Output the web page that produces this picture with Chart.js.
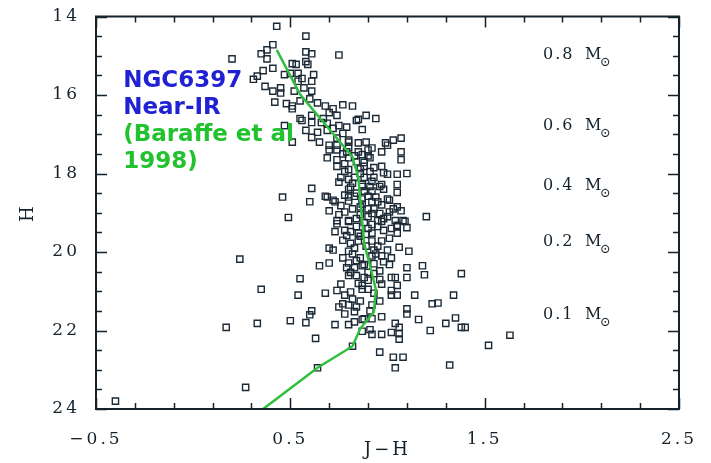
<!DOCTYPE html>
<html>
<head>
<meta charset="utf-8">
<title>NGC6397 Near-IR CMD</title>
<script src="https://cdn.jsdelivr.net/npm/chart.js@4.4.1/dist/chart.umd.min.js"></script>
<style>
  html, body { margin: 0; padding: 0; background: #fff; }
  #wrap { width: 711px; height: 463px; }
</style>
</head>
<body>
<div id="wrap"><canvas id="cmd" width="711" height="463"></canvas></div>
<script>
// stars: J-H colour and H magnitude
const starJH = [
  0.43, 0.58, 0.41, 0.38, 0.35, 0.38, 0.20, 0.58, 0.61, 0.75,
  0.51, 0.53, 0.58, 0.41, 0.36, 0.47, 0.33, 0.31, 0.50, 0.54,
  0.62, 0.56, 0.54, 0.61, 0.59, 0.37, 0.41, 0.45, 0.45, 0.57,
  0.52, 0.61, 0.42, 0.48, 0.51, 0.51, 0.55, 0.60, 0.64, 0.68,
  0.77, 0.72, 0.70, 0.74, 0.55, 0.61, 0.66, 0.58, 0.64, 0.69,
  0.72, 0.74, 0.51, 0.47, 0.89, 0.85, 0.94, 0.87, 1.07, 1.03,
  0.99, 0.79, 0.77, 0.80, 0.89, 0.85, 0.61, 0.67, 0.69, 0.75,
  0.56, 0.61, 0.65, 0.70, 0.74, 0.80, 0.92, 0.97, 0.84, 0.82,
  0.70, 0.74, 0.80, 0.85, 0.90, 1.00, 1.07, 1.07, 0.69, 0.74,
  0.80, 0.84, 0.88, 0.74, 0.80, 0.88, 0.93, 0.97, 0.98, 0.76,
  0.80, 0.83, 0.88, 0.93, 1.05, 1.10, 0.75, 0.87, 0.97, 1.05,
  0.81, 0.88, 0.92, 1.05, 0.69, 0.80, 0.83, 0.90, 0.94, 1.00,
  0.73, 0.76, 0.80, 0.92, 0.95, 1.05, 0.70, 0.78, 0.82, 0.90,
  0.93, 0.96, 1.01, 1.07, 0.74, 0.80, 0.84, 0.90, 0.95, 0.98,
  1.04, 1.08, 0.46, 0.60, 0.61, 0.49, 0.68, 0.72, 1.01, 1.03,
  1.20, 1.09, 1.05, 0.79, 0.87, 0.91, 1.00, 0.87, 0.74, 0.73,
  0.87, 0.92, 1.00, 0.80, 0.97, 1.05, 1.10, 0.78, 0.81, 0.90,
  0.95, 1.02, 0.79, 0.85, 0.92, 1.05, 0.81, 0.85, 0.92, 0.97,
  0.70, 0.72, 0.80, 0.83, 0.93, 1.00, 1.06, 1.11, 1.01, 0.98,
  0.97, 0.92, 1.02, 0.65, 0.70, 0.80, 0.84, 0.88, 1.01, 0.79,
  0.83, 0.90, 0.96, 1.02, 1.10, 1.18, 0.80, 0.84, 0.88, 0.90,
  0.96, 1.04, 1.10, 1.19, 1.38, 0.76, 0.87, 0.90, 0.97, 1.05,
  0.74, 0.81, 1.02, 1.02, 1.05, 1.14, 1.34, 0.78, 0.82, 0.77,
  0.24, 0.35, 0.17, 0.33, 0.27, -0.40, 0.55, 0.54, 0.50, 0.58,
  0.61, 0.60, 0.68, 0.63, 0.64, 0.73, 0.75, 0.80, 0.84, 0.78,
  0.83, 0.92, 0.91, 0.88, 0.92, 0.97, 1.10, 1.10, 1.23, 1.26,
  1.16, 1.30, 1.35, 1.38, 1.40, 1.22, 0.80, 0.83, 0.87, 1.04,
  1.06, 1.06, 1.06, 1.02, 0.97, 0.92, 0.91, 0.87, 0.82, 0.96,
  1.03, 1.08, 1.04, 1.32, 1.52, 1.63, 0.87, 0.81, 0.87, 0.91,
  0.96, 0.80, 0.78, 0.86, 0.84, 0.86, 0.88, 0.86, 0.89, 0.94,
  0.86, 0.93, 0.77, 0.83, 0.90, 0.78, 0.86, 0.91, 0.82, 0.92,
  0.98, 0.78, 0.87, 0.97, 0.75, 0.86, 0.92, 0.84, 0.77, 0.89,
  0.95, 0.82, 0.77, 0.98, 0.93, 0.85, 0.93, 0.86, 0.96
];
const starH = [
  14.25, 14.50, 14.72, 14.85, 14.95, 15.08, 15.08, 14.90, 14.95, 14.98,
  15.20, 15.22, 15.15, 15.32, 15.38, 15.48, 15.52, 15.60, 15.45, 15.45,
  15.48, 15.58, 15.65, 15.65, 15.22, 15.78, 15.90, 15.95, 15.82, 15.82,
  15.90, 15.90, 16.18, 16.22, 16.28, 16.35, 16.15, 16.10, 16.20, 16.28,
  16.25, 16.35, 16.45, 16.52, 16.60, 16.52, 16.70, 16.90, 16.95, 16.90,
  16.85, 17.10, 17.20, 16.78, 16.52, 16.62, 16.60, 16.88, 17.10, 17.15,
  17.22, 16.82, 16.98, 17.15, 17.20, 17.22, 16.70, 16.60, 16.72, 16.78,
  16.65, 17.08, 17.20, 17.28, 17.28, 17.20, 17.35, 17.45, 16.65, 16.28,
  17.40, 17.40, 17.35, 17.45, 17.40, 17.28, 17.45, 17.65, 17.60, 17.65,
  17.60, 17.70, 17.72, 17.82, 17.90, 17.82, 17.85, 17.82, 17.98, 18.10,
  18.15, 18.10, 18.10, 18.10, 18.02, 18.00, 18.22, 18.28, 18.28, 18.28,
  18.35, 18.45, 18.45, 18.48, 18.60, 18.60, 18.58, 18.58, 18.60, 18.65,
  18.72, 18.82, 18.70, 18.72, 18.72, 18.85, 18.95, 18.98, 18.90, 18.90,
  18.90, 19.02, 18.98, 18.95, 19.20, 19.20, 19.15, 19.10, 19.20, 19.15,
  19.20, 19.20, 18.60, 18.72, 18.38, 19.12, 18.58, 18.68, 18.68, 18.90,
  19.10, 19.22, 19.32, 17.45, 17.52, 17.60, 18.02, 18.33, 19.28, 19.48,
  18.78, 19.02, 19.10, 19.22, 19.22, 19.35, 19.38, 19.45, 19.48, 19.40,
  19.35, 19.40, 19.58, 19.52, 19.52, 19.52, 19.78, 19.72, 19.72, 19.72,
  19.90, 19.95, 19.98, 19.90, 19.95, 19.95, 19.88, 19.98, 19.65, 19.45,
  20.10, 20.10, 20.15, 20.35, 20.28, 20.28, 20.22, 20.32, 20.32, 20.40,
  20.40, 20.52, 20.48, 20.65, 20.40, 20.35, 20.60, 20.60, 20.65, 20.72,
  20.70, 20.65, 20.65, 20.58, 20.55, 20.82, 20.85, 20.95, 20.82, 20.85,
  20.98, 21.02, 20.98, 21.10, 21.10, 21.10, 21.10, 21.10, 21.20, 21.32,
  20.18, 20.95, 21.92, 21.82, 23.45, 23.80, 20.68, 21.10, 21.75, 21.80,
  21.50, 21.60, 21.05, 22.20, 22.95, 21.85, 21.40, 21.35, 21.40, 21.58,
  21.52, 21.35, 21.50, 21.70, 21.70, 21.65, 21.45, 21.58, 21.32, 21.30,
  21.72, 21.82, 21.68, 21.92, 21.92, 22.00, 21.85, 21.78, 21.72, 21.82,
  21.92, 22.08, 22.22, 22.05, 22.10, 22.10, 21.98, 22.02, 22.40, 22.55,
  22.68, 22.68, 22.95, 22.88, 22.38, 22.12, 20.95, 20.52, 20.35, 18.33,
  18.33, 18.40, 17.95, 18.00, 18.50, 18.85, 19.25, 19.60, 19.85, 20.05,
  20.15, 20.30, 17.50, 17.55, 17.55, 17.75, 17.88, 17.95, 18.25, 18.20,
  18.40, 18.55, 18.65, 18.80, 19.05, 19.05, 19.30, 19.35, 19.70, 19.55,
  19.85, 20.05, 20.15, 20.25, 20.55, 20.80, 21.05, 21.25, 21.25
];

// Baraffe et al. (1998) isochrone
const isoJH = [0.43, 0.55, 0.82, 0.85, 0.88, 0.91, 0.94, 0.93, 0.86, 0.82, 0.64, 0.36];
const isoH = [14.85, 15.98, 17.58, 18.10, 19.78, 20.35, 20.95, 21.53, 21.95, 22.40, 22.95, 24.00];

// mass labels on the right hand side
const massText = ['0.8', '0.6', '0.4', '0.2', '0.1'];
const massH = [15.08, 16.88, 18.43, 19.85, 21.70];

// which ticks get a number
const xLabelTicks = [-0.5, 0.5, 1.5, 2.5];
const yLabelTicks = [14, 16, 18, 20, 22, 24];

const ink = '#15222b';
const serif = "'DejaVu Serif', 'Liberation Serif', serif";

// wide old-style plot lettering
const spacing = {
    id: 'spacing',
    beforeLayout(chart) { chart.ctx.letterSpacing = '3px'; },
    beforeDraw(chart) { chart.ctx.letterSpacing = '3px'; }
};

// box round the plot with inward ticks on all four sides
const frame = {
    id: 'frame',
    afterDatasetsDraw(chart) {
        const { ctx, chartArea: a, scales: { x, y } } = chart;
        ctx.save();
        ctx.strokeStyle = ink;
        ctx.lineWidth = 1.5;
        ctx.beginPath();
        x.ticks.forEach(t => {
            const px = Math.round(x.getPixelForValue(t.value)) + 0.5;
            const len = t.label ? 11 : 6;
            ctx.moveTo(px, a.bottom); ctx.lineTo(px, a.bottom - len);
            ctx.moveTo(px, a.top); ctx.lineTo(px, a.top + len);
        });
        y.ticks.forEach(t => {
            const py = Math.round(y.getPixelForValue(t.value)) + 0.5;
            const len = t.label ? 11 : 6;
            ctx.moveTo(a.left, py); ctx.lineTo(a.left + len, py);
            ctx.moveTo(a.right, py); ctx.lineTo(a.right - len, py);
        });
        ctx.stroke();
        ctx.lineWidth = 2;
        ctx.strokeRect(a.left, a.top, a.right - a.left, a.bottom - a.top);
        ctx.restore();
    }
};

// cluster name, model reference and mass labels
const notes = {
    id: 'notes',
    afterDraw(chart) {
        const { ctx, scales: { x, y } } = chart;
        ctx.save();
        ctx.letterSpacing = '0px';
        ctx.textAlign = 'left';
        ctx.textBaseline = 'alphabetic';
        ctx.font = "bold 23px 'DejaVu Sans', sans-serif";
        const tx = x.getPixelForValue(-0.36);
        const ty = y.getPixelForValue(15.80);
        ctx.fillStyle = '#2121d4';
        ctx.fillText('NGC6397', tx, ty);
        ctx.fillText('Near-IR', tx, ty + 27);
        ctx.fillStyle = '#22c22e';
        ctx.fillText('(Baraffe et al', tx, ty + 54);
        ctx.fillText('1998)', tx, ty + 81);

        ctx.fillStyle = ink;
        const mx = x.getPixelForValue(1.80);
        massText.forEach((m, i) => {
            const my = y.getPixelForValue(massH[i]);
            ctx.letterSpacing = '2px';
            ctx.font = '16px ' + serif;
            ctx.fillText(m, mx, my);
            ctx.fillText('M', mx + 42, my);
            ctx.letterSpacing = '0px';
            ctx.font = '13px ' + serif;
            ctx.fillText('\u2299', mx + 57, my + 7);
        });
        ctx.restore();
    }
};

const stars = starJH.map((v, i) => ({ x: v, y: starH[i] }));
const isochrone = isoJH.map((v, i) => ({ x: v, y: isoH[i] }));

const ctxCmd = document.getElementById('cmd').getContext('2d');
const cmdChart = new Chart(ctxCmd, {
    type: 'scatter',
    data: {
        datasets: [{
            label: 'Baraffe et al 1998',
            data: isochrone,
            showLine: true,
            borderColor: '#2fbf3d',
            borderWidth: 2.5,
            pointRadius: 0,
            tension: 0,
            order: 0
        }, {
            label: 'NGC6397',
            data: stars,
            pointStyle: 'rect',
            pointRadius: 4.4,
            borderColor: '#1b2a36',
            borderWidth: 1.4,
            backgroundColor: 'rgba(0,0,0,0)',
            order: 1
        }]
    },
    options: {
        responsive: false,
        animation: false,
        layout: { padding: { top: 9, right: 31, bottom: 0, left: 0 } },
        plugins: {
            legend: { display: false },
            tooltip: { enabled: false }
        },
        scales: {
            x: {
                type: 'linear',
                min: -0.5,
                max: 2.5,
                grid: { display: false },
                border: { display: false },
                ticks: {
                    stepSize: 0.2,
                    autoSkip: false,
                    maxRotation: 0,
                    padding: 14,
                    color: ink,
                    font: { family: serif, size: 17, lineHeight: 1 },
                    callback: v => xLabelTicks.some(t => Math.abs(t - v) < 1e-6) ? v.toFixed(1).replace('-', '\u2212') : ''
                },
                title: {
                    display: true,
                    text: 'J\u2212H',
                    color: ink,
                    font: { family: serif, size: 18 },
                    padding: { top: 0, bottom: 2 }
                },
                afterFit(s) { s.height = 54; }
            },
            y: {
                type: 'linear',
                reverse: true,
                min: 14,
                max: 24,
                grid: { display: false },
                border: { display: false },
                ticks: {
                    stepSize: 0.5,
                    autoSkip: false,
                    padding: 8,
                    color: ink,
                    font: { family: serif, size: 17, lineHeight: 1 },
                    callback: v => yLabelTicks.includes(v) ? String(v) : ''
                },
                title: {
                    display: true,
                    text: 'H',
                    color: ink,
                    font: { family: serif, size: 18 },
                    padding: { top: 18, bottom: 0 }
                },
                afterFit(s) { s.width = 96; }
            }
        }
    },
    plugins: [spacing, frame, notes]
});
</script>
</body>
</html>
